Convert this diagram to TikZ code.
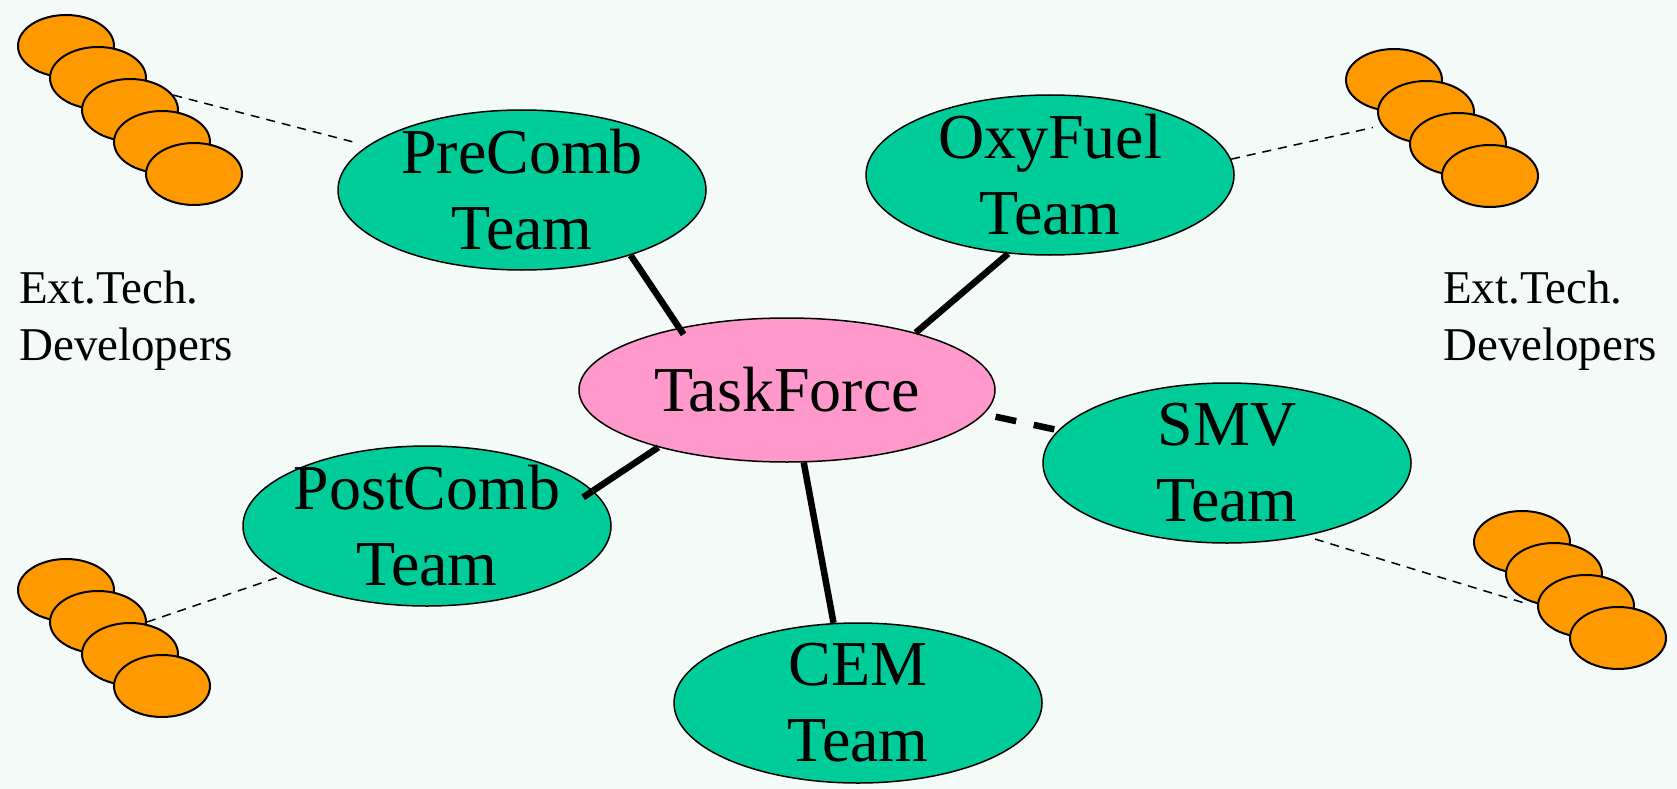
\documentclass[tikz,border=0pt]{standalone}
\usepackage{fontspec}
\setmainfont{Liberation Serif}
\usetikzlibrary{shapes.geometric}
\definecolor{bgcol}{RGB}{244,250,248}
\definecolor{teamgreen}{RGB}{0,204,153}
\definecolor{devorange}{RGB}{255,153,0}
\definecolor{forcepink}{RGB}{255,153,204}

\begin{document}
\begin{tikzpicture}[x=1pt,y=-1pt,
  team/.style={ellipse,draw,line width=1.5pt,fill=teamgreen,minimum width=368pt,minimum height=160pt,inner sep=0pt},
  teamtext/.style={align=center,inner sep=0pt,font=\fontsize{64}{76}\selectfont},
  dev/.style={ellipse,draw,line width=2pt,fill=devorange,minimum width=96pt,minimum height=62pt,inner sep=0pt},
  devtext/.style={align=left,anchor=north west,inner sep=0pt,font=\fontsize{47}{57}\selectfont},
  link/.style={line width=6.5pt},
  extlink/.style={line width=1.5pt,dash pattern=on 9pt off 7pt}]
  \fill[bgcol] (0,0) rectangle (1677,789);

  \foreach \k in {0,...,4} \node[dev] (tl\k) at ({66+32*\k},{46+32*\k}) {};
  \foreach \k in {0,...,3} \node[dev] (tr\k) at ({1394+32*\k},{80+32*\k}) {};
  \foreach \k in {0,...,3} \node[dev] (bl\k) at ({66+32*\k},{590+32*\k}) {};
  \foreach \k in {0,...,3} \node[dev] (br\k) at ({1522+32*\k},{542+32*\k}) {};

  \node[devtext] (extl) at (19,271) {Ext.Tech.\\Developers};
  \node[devtext] (extr) at (1443,271) {Ext.Tech.\\Developers};

  \node[ellipse,draw,line width=1.5pt,fill=forcepink,minimum width=416pt,minimum height=144pt,
    inner sep=0pt,font=\fontsize{64}{76}\selectfont] (tf) at (787,390) {TaskForce};
  \node[team,label={[teamtext]center:PreComb\\Team}] (pre) at (522,190) {};
  \node[team,label={[teamtext]center:OxyFuel\\Team}] (oxy) at (1050,175) {};
  \node[team,label={[teamtext]center:SMV\\Team}] (smv) at (1227,463) {};
  \node[team,label={[teamtext]center:PostComb\\Team}] (post) at (427,526) {};
  \node[team,label={[teamtext]center:CEM\\Team}] (cem) at (858,703) {};

  \draw[link,shorten >=-8pt] (pre.-31) -- (tf.150);
  \draw[link] (oxy.242) -- (tf.24);
  \draw[link,shorten <=-12pt] (post.12) -- (tf.204);
  \draw[link] (cem.107) -- (tf.-77);
  \draw[link,dash pattern=on 21pt off 18pt,shorten <=12pt] (tf.-7) -- (smv.169);

  \draw[extlink,shorten >=12pt] (tl2.19) -- (pre.164);
  \draw[extlink,shorten >=9pt] (oxy.5) -- (tr1.197);
  \draw[extlink] (bl1.0) -- (post.199);
  \draw[extlink,shorten <=10pt,shorten >=15pt] (smv.-43) -- (br2.181);
\end{tikzpicture}
\end{document}
